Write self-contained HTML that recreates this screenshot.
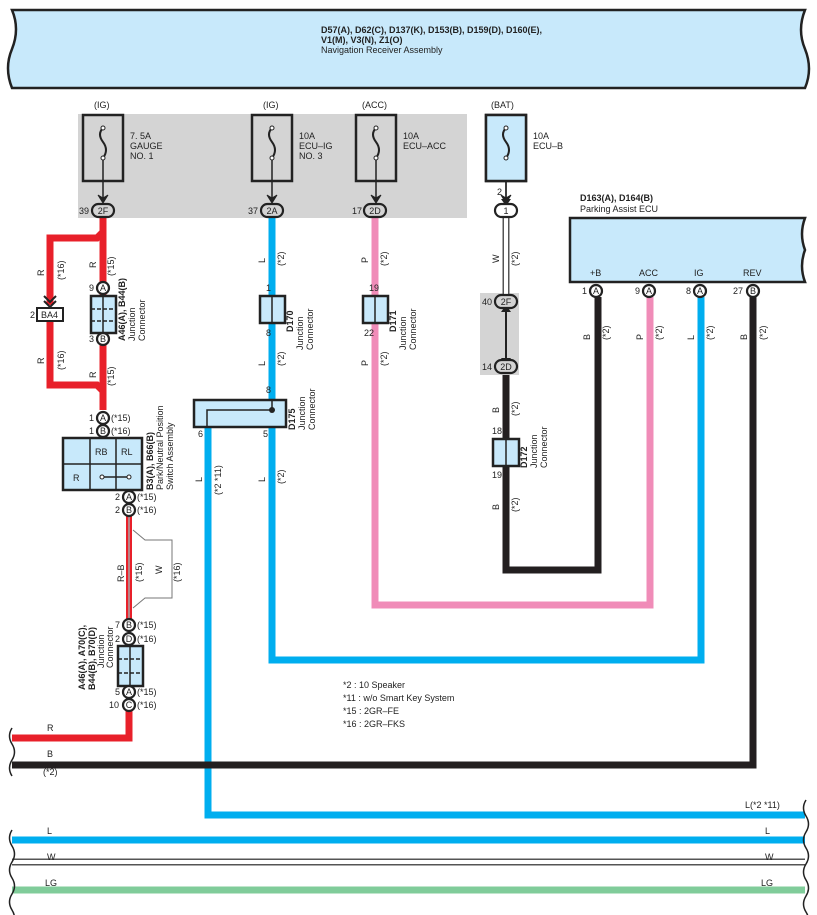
<!DOCTYPE html>
<html><head><meta charset="utf-8"><style>
body{margin:0;background:#fff}
svg{display:block;font-family:"Liberation Sans",sans-serif}
text{font-size:9px;fill:#222}
.b{font-weight:bold}
</style></head><body>
<svg width="817" height="915" viewBox="0 0 817 915" xmlns="http://www.w3.org/2000/svg">
<defs>
<g id="fuse"><rect x="0" y="0" width="40" height="66" fill="none" stroke="#222" stroke-width="2.5"/>
<path d="M20 13 q-6 6 0 14 q6 8 0 16" fill="none" stroke="#222" stroke-width="2"/>
<circle cx="20" cy="13" r="2" fill="#fff" stroke="#222"/><circle cx="20" cy="43" r="2" fill="#fff" stroke="#222"/>
<line x1="20" y1="45" x2="20" y2="84" stroke="#222" stroke-width="1.5"/>
<path d="M15 80 l5 8 l5 -8 l-5 3 z" fill="#222" stroke="#222"/></g>
</defs>
<!-- top box -->
<path d="M12 10 H805 q-8 20 0 39 q8 20 0 39 H12 q-8 -20 0 -39 q8 -20 0 -39z" fill="#c8e9fb" stroke="#222" stroke-width="2.5"/>
<text x="321" y="33" class="b">D57(A), D62(C), D137(K), D153(B), D159(D), D160(E),</text>
<text x="321" y="43" class="b">V1(M), V3(N), Z1(O)</text>
<text x="321" y="53">Navigation Receiver Assembly</text>
<!-- gray fuse region -->
<rect x="78" y="114" width="389" height="104" fill="#d4d4d4"/>
<rect x="480" y="293" width="39" height="82" fill="#d4d4d4"/>
<text x="94" y="108">(IG)</text><text x="263" y="108">(IG)</text><text x="362" y="108">(ACC)</text><text x="491" y="108">(BAT)</text>
<use href="#fuse" x="83" y="115"/><use href="#fuse" x="252" y="115"/><use href="#fuse" x="356" y="115"/>
<use href="#fuse" x="486" y="115"/>
<rect x="486" y="115" width="40" height="66" fill="#c8e9fb" stroke="#222" stroke-width="2.5"/>
<path d="M506 128 q-6 6 0 14 q6 8 0 16" fill="none" stroke="#222" stroke-width="2"/>
<circle cx="506" cy="128" r="2" fill="#fff" stroke="#222"/><circle cx="506" cy="158" r="2" fill="#fff" stroke="#222"/>
<text x="130" y="139">7. 5A</text><text x="130" y="149">GAUGE</text><text x="130" y="159">NO. 1</text>
<text x="299" y="139">10A</text><text x="299" y="149">ECU–IG</text><text x="299" y="159">NO. 3</text>
<text x="403" y="139">10A</text><text x="403" y="149">ECU–ACC</text>
<text x="533" y="139">10A</text><text x="533" y="149">ECU–B</text>
<!-- wires -->
<g fill="none" stroke-width="7" stroke-linejoin="miter">
<path d="M103 218 V232 L97 238 H50 V305" stroke="#e8202a"/>
<path d="M50 322 V385 H97 L103 391" stroke="#e8202a"/>
<path d="M103 218 V410" stroke="#e8202a"/>
<path d="M129 710 V738 H12" stroke="#e8202a"/>
<path d="M272 218 V400" stroke="#00aeef"/>
<path d="M272 427 V660 H701 V297" stroke="#00aeef"/>
<path d="M208 427 V815 H805" stroke="#00aeef"/>
<path d="M375 218 V605 H650 V297" stroke="#f08cb8"/>
<path d="M506 375 V570 H598 V297" stroke="#231f20"/>
<path d="M753 297 V765 H12" stroke="#231f20"/>
<path d="M12 840 H805" stroke="#00aeef"/>
<path d="M12 890 H805" stroke="#80cc9a"/>
</g>
<path d="M12 862 H805" stroke="#555" stroke-width="7"/><path d="M12 862 H805" stroke="#fff" stroke-width="4"/>
<path d="M506 215 V300" stroke="#555" stroke-width="7"/><path d="M506 215 V300" stroke="#fff" stroke-width="4"/>
<path d="M129 515 V620" stroke="#e8202a" stroke-width="6"/><path d="M129 515 V620" stroke="#fff" stroke-width="1.5"/><path d="M129 515 V620" stroke="#222" stroke-width="0.6"/>
<path d="M133 530 L145 540 H172 V598 H145 L133 608" fill="none" stroke="#777" stroke-width="1"/>
<path d="M506 306 V364" stroke="#222" stroke-width="2"/><path d="M501 312 l5 -7 l5 7z M501 358 l5 7 l5 -7z" fill="#222"/>
<path d="M506 181 V204" stroke="#222" stroke-width="1.5"/><path d="M501 199 l5 7 l5 -7z" fill="#222"/>
<!-- ovals -->
<g stroke="#222" stroke-width="2.2" fill="#d4d4d4">
<rect x="92" y="204" width="22" height="13" rx="6.5"/><rect x="261" y="204" width="22" height="13" rx="6.5"/><rect x="364" y="204" width="22" height="13" rx="6.5"/>
<rect x="495" y="204" width="22" height="13" rx="6.5" fill="#fff"/><rect x="495" y="295" width="22" height="13" rx="6.5"/><rect x="495" y="360" width="22" height="13" rx="6.5"/>
</g>
<g text-anchor="middle"><text x="103" y="214">2F</text><text x="272" y="214">2A</text><text x="375" y="214">2D</text><text x="506" y="214">1</text><text x="506" y="305">2F</text><text x="506" y="370">2D</text></g>
<text x="79" y="214">39</text><text x="248" y="214">37</text><text x="352" y="214">17</text><text x="497" y="195">2</text><text x="482" y="305">40</text><text x="482" y="370">14</text>
<!-- BA4 -->
<path d="M44 296 l6 6 l6 -6 M44 301 l6 6 l6 -6" stroke="#222" stroke-width="2" fill="none"/>
<rect x="37" y="308" width="26" height="13" fill="#fff" stroke="#222" stroke-width="2"/><text x="41" y="318">BA4</text><text x="30" y="318">2</text>
<!-- junction boxes -->
<g stroke="#222" stroke-width="2.5" fill="#c8e9fb">
<rect x="91" y="296" width="25" height="37"/><rect x="260" y="296" width="25" height="27"/><rect x="363" y="296" width="25" height="27"/>
<rect x="493" y="439" width="26" height="27"/><rect x="118" y="646" width="25" height="40"/>
<rect x="194" y="400" width="92" height="27"/><rect x="63" y="438" width="79" height="52"/>
</g>
<g stroke="#222" stroke-width="1.5"><line x1="103" y1="296" x2="103" y2="333"/><line x1="272" y1="296" x2="272" y2="323"/><line x1="375" y1="296" x2="375" y2="323"/><line x1="506" y1="439" x2="506" y2="466"/><line x1="130" y1="646" x2="130" y2="686"/>
<line x1="91" y1="309" x2="116" y2="309" stroke-dasharray="4 2"/><line x1="91" y1="321" x2="116" y2="321" stroke-dasharray="4 2"/>
<line x1="118" y1="659" x2="143" y2="659" stroke-dasharray="4 2"/><line x1="118" y1="673" x2="143" y2="673" stroke-dasharray="4 2"/>
<path d="M207 427 V410 H272 V400" fill="none"/>
<line x1="90" y1="438" x2="90" y2="490"/><line x1="116" y1="438" x2="116" y2="490"/><line x1="63" y1="464" x2="142" y2="464"/>
<line x1="102" y1="477" x2="129" y2="477"/></g>
<circle cx="272" cy="410" r="3" fill="#222"/><circle cx="102" cy="477" r="2" fill="#fff" stroke="#222"/><circle cx="129" cy="477" r="2" fill="#fff" stroke="#222"/>
<text x="95" y="455">RB</text><text x="121" y="455">RL</text><text x="73" y="481">R</text>
<!-- circles -->
<g stroke="#222" stroke-width="2.2" fill="#fff">
<circle cx="103" cy="288" r="6"/><circle cx="103" cy="339" r="6"/><circle cx="103" cy="418" r="6"/><circle cx="103" cy="431" r="6"/>
<circle cx="129" cy="497" r="6"/><circle cx="129" cy="510" r="6"/><circle cx="129" cy="625" r="6"/><circle cx="129" cy="639" r="6"/><circle cx="129" cy="692" r="6"/><circle cx="129" cy="705" r="6"/>
<circle cx="596" cy="291" r="6"/><circle cx="649" cy="291" r="6"/><circle cx="700" cy="291" r="6"/><circle cx="753" cy="291" r="6"/>
</g>
<g text-anchor="middle"><text x="103" y="291">A</text><text x="103" y="342">B</text><text x="103" y="421">A</text><text x="103" y="434">B</text><text x="129" y="500">A</text><text x="129" y="513">B</text><text x="129" y="628">B</text><text x="129" y="642">D</text><text x="129" y="695">A</text><text x="129" y="708">C</text>
<text x="596" y="294">A</text><text x="649" y="294">A</text><text x="700" y="294">A</text><text x="753" y="294">B</text></g>
<text x="89" y="291">9</text><text x="89" y="342">3</text><text x="89" y="421">1</text><text x="89" y="434">1</text><text x="111" y="421">(*15)</text><text x="111" y="434">(*16)</text>
<text x="115" y="500">2</text><text x="115" y="513">2</text><text x="137" y="500">(*15)</text><text x="137" y="513">(*16)</text>
<text x="115" y="628">7</text><text x="115" y="642">2</text><text x="137" y="628">(*15)</text><text x="137" y="642">(*16)</text>
<text x="115" y="695">5</text><text x="109" y="708">10</text><text x="137" y="695">(*15)</text><text x="137" y="708">(*16)</text>
<text x="582" y="294">1</text><text x="635" y="294">9</text><text x="686" y="294">8</text><text x="733" y="294">27</text>
<text x="266" y="291">1</text><text x="266" y="336">8</text><text x="369" y="291">19</text><text x="364" y="336">22</text><text x="266" y="393">8</text><text x="198" y="437">6</text><text x="263" y="437">5</text>
<text x="492" y="434">18</text><text x="492" y="478">19</text>
<!-- ECU -->
<path d="M570 218 H805 q-6 16 0 32 q-6 16 0 32 H570z" fill="#c8e9fb" stroke="#222" stroke-width="2.5"/>
<text x="580" y="201" class="b">D163(A), D164(B)</text><text x="580" y="212">Parking Assist ECU</text>
<text x="590" y="276">+B</text><text x="639" y="276">ACC</text><text x="694" y="276">IG</text><text x="743" y="276">REV</text>
<!-- rotated labels -->
<g>
<text transform="translate(125,341) rotate(-90)" class="b">A46(A), B44(B)</text>
<text transform="translate(135,341) rotate(-90)">Junction</text><text transform="translate(145,341) rotate(-90)">Connector</text>
<text transform="translate(293,332) rotate(-90)" class="b">D170</text><text transform="translate(303,350) rotate(-90)">Junction</text><text transform="translate(313,350) rotate(-90)">Connector</text>
<text transform="translate(396,332) rotate(-90)" class="b">D171</text><text transform="translate(406,350) rotate(-90)">Junction</text><text transform="translate(416,350) rotate(-90)">Connector</text>
<text transform="translate(295,430) rotate(-90)" class="b">D175</text><text transform="translate(305,430) rotate(-90)">Junction</text><text transform="translate(315,430) rotate(-90)">Connector</text>
<text transform="translate(527,468) rotate(-90)" class="b">D172</text><text transform="translate(537,468) rotate(-90)">Junction</text><text transform="translate(547,468) rotate(-90)">Connector</text>
<text transform="translate(153,490) rotate(-90)" class="b">B3(A), B66(B)</text><text transform="translate(163,490) rotate(-90)">Park/Neutral Position</text><text transform="translate(173,490) rotate(-90)">Switch Assembly</text>
<text transform="translate(85,690) rotate(-90)" class="b">A46(A), A70(C),</text><text transform="translate(95,690) rotate(-90)" class="b">B44(B), B70(D)</text>
<text transform="translate(104,668) rotate(-90)">Junction</text><text transform="translate(113,668) rotate(-90)">Connector</text>
</g>
<g font-size="9">
<text transform="translate(96,268) rotate(-90)">R</text><text transform="translate(114,276) rotate(-90)">(*15)</text>
<text transform="translate(96,378) rotate(-90)">R</text><text transform="translate(114,386) rotate(-90)">(*15)</text>
<text transform="translate(44,276) rotate(-90)">R</text><text transform="translate(64,280) rotate(-90)">(*16)</text>
<text transform="translate(44,364) rotate(-90)">R</text><text transform="translate(64,370) rotate(-90)">(*16)</text>
<text transform="translate(124,582) rotate(-90)">R–B</text><text transform="translate(142,582) rotate(-90)">(*15)</text>
<text transform="translate(162,574) rotate(-90)">W</text><text transform="translate(180,582) rotate(-90)">(*16)</text>
<text transform="translate(265,263) rotate(-90)">L</text><text transform="translate(284,266) rotate(-90)">(*2)</text>
<text transform="translate(265,366) rotate(-90)">L</text><text transform="translate(284,366) rotate(-90)">(*2)</text>
<text transform="translate(368,263) rotate(-90)">P</text><text transform="translate(387,266) rotate(-90)">(*2)</text>
<text transform="translate(368,366) rotate(-90)">P</text><text transform="translate(387,366) rotate(-90)">(*2)</text>
<text transform="translate(265,482) rotate(-90)">L</text><text transform="translate(284,484) rotate(-90)">(*2)</text>
<text transform="translate(202,482) rotate(-90)">L</text><text transform="translate(221,495) rotate(-90)">(*2 *11)</text>
<text transform="translate(499,263) rotate(-90)">W</text><text transform="translate(518,266) rotate(-90)">(*2)</text>
<text transform="translate(499,413) rotate(-90)">B</text><text transform="translate(518,416) rotate(-90)">(*2)</text>
<text transform="translate(499,510) rotate(-90)">B</text><text transform="translate(518,512) rotate(-90)">(*2)</text>
<text transform="translate(590,340) rotate(-90)">B</text><text transform="translate(609,340) rotate(-90)">(*2)</text>
<text transform="translate(643,340) rotate(-90)">P</text><text transform="translate(662,340) rotate(-90)">(*2)</text>
<text transform="translate(694,340) rotate(-90)">L</text><text transform="translate(713,340) rotate(-90)">(*2)</text>
<text transform="translate(747,340) rotate(-90)">B</text><text transform="translate(766,340) rotate(-90)">(*2)</text>
</g>
<text x="343" y="688">*2 : 10 Speaker</text><text x="343" y="701">*11 : w/o Smart Key System</text><text x="343" y="714">*15 : 2GR–FE</text><text x="343" y="727">*16 : 2GR–FKS</text>
<text x="47" y="731">R</text><text x="47" y="757">B</text><text x="43" y="775">(*2)</text>
<text x="745" y="808">L(*2 *11)</text>
<text x="47" y="834">L</text><text x="765" y="834">L</text><text x="47" y="860">W</text><text x="765" y="860">W</text><text x="45" y="886">LG</text><text x="761" y="886">LG</text>
<!-- wavy break marks -->
<g fill="none" stroke="#222" stroke-width="1.5">
<path d="M12 728 q-5 8 0 16 q5 8 0 16 q-5 8 0 16"/>
<path d="M12 830 q-5 8 0 16 q5 8 0 16 q-5 8 0 16 q5 8 0 16 q-5 8 0 16 q5 8 0 16"/>
<path d="M806 800 q-5 8 0 16 q5 8 0 16 q-5 8 0 16 q5 8 0 16 q-5 8 0 16 q5 8 0 16 q-5 8 0 16 q5 8 0 16"/>
</g>
</svg>
</body></html>
